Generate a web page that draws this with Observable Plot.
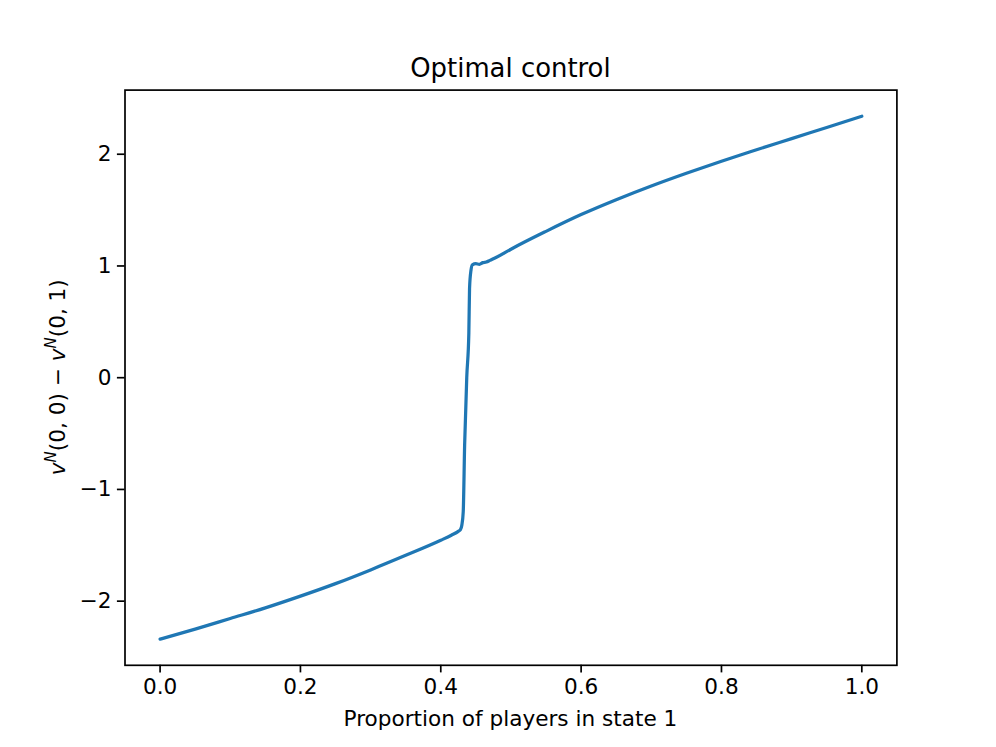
<!DOCTYPE html>
<html>
<head>
<meta charset="utf-8">
<script src="https://cdn.jsdelivr.net/npm/d3@7"></script>
<script src="https://cdn.jsdelivr.net/npm/@observablehq/plot@0.6"></script>
<style>
  html, body { margin: 0; padding: 0; background: #ffffff; }
  #chart { width: 996px; height: 747px; }
</style>
</head>
<body>
<div id="chart"></div>
<script>
// ---- Data ----
const titleText = "Optimal control";
const xLabelText = "Proportion of players in state 1";

// proportion of players in state 1
const proportion = [
  0.00, 0.05, 0.10, 0.15, 0.20, 0.25, 0.30, 0.35, 0.40, 0.415, 0.425, 0.428,
  0.430, 0.432, 0.434, 0.437, 0.440, 0.441, 0.443, 0.445, 0.450, 0.455, 0.460,
  0.465, 0.470, 0.480, 0.50, 0.55, 0.60, 0.65, 0.70, 0.75, 0.80, 0.85, 0.90,
  0.95, 1.00
];
// v^N(0,0) - v^N(0,1)
const valueDiff = [
  -2.34, -2.25, -2.155, -2.06, -1.955, -1.843, -1.72, -1.59, -1.455, -1.41, -1.375, -1.36,
  -1.32, -1.20, -0.60, 0.00, 0.40, 0.80, 0.96, 1.01, 1.02, 1.015, 1.03,
  1.035, 1.05, 1.08, 1.15, 1.31, 1.46, 1.593, 1.716, 1.83, 1.938, 2.04, 2.14,
  2.24, 2.34
];

const xTicks = [0.0, 0.2, 0.4, 0.6, 0.8, 1.0];
const yTicks = [-2, -1, 0, 1, 2];

const data = proportion.map((x, i) => ({x, y: valueDiff[i]}));

const W = 996, H = 747;
const axLeft = 124.5, axRight = 896.4, axTop = 89.6, axBottom = 664.8;
const fs = 21.6;

const chart = Plot.plot({
  width: W,
  height: H,
  marginLeft: axLeft,
  marginRight: W - axRight,
  marginTop: axTop,
  marginBottom: H - axBottom,
  style: {fontFamily: "DejaVu Sans", fontSize: fs + "px", background: "#ffffff", color: "#000000"},
  x: {domain: [-0.05, 1.05]},
  y: {domain: [-2.574, 2.574]},
  marks: [
    Plot.line(data, {x: "x", y: "y", stroke: "#1f77b4", strokeWidth: 3.24, curve: "monotone-x"}),
    Plot.frame({stroke: "#000000", strokeWidth: 1.7}),
    Plot.axisX({ticks: xTicks, tickFormat: d3.format(".1f"), tickSize: 7.6, tickPadding: 6, strokeWidth: 1.7, label: null, fontSize: fs, fill: "#000000"}),
    Plot.axisY({ticks: yTicks, tickFormat: d3.format("d"), tickSize: 7.6, tickPadding: 6, strokeWidth: 1.7, label: null, fontSize: fs, fill: "#000000"})
  ]
});

document.getElementById("chart").appendChild(chart);

const svg = d3.select(chart);
// Title
svg.append("text")
  .attr("x", (axLeft + axRight) / 2)
  .attr("y", 76.5)
  .attr("text-anchor", "middle")
  .attr("font-size", 25.9)
  .attr("fill", "#000")
  .text(titleText);
// X label
svg.append("text")
  .attr("x", (axLeft + axRight) / 2)
  .attr("y", 726)
  .attr("text-anchor", "middle")
  .attr("font-size", fs)
  .attr("fill", "#000")
  .text(xLabelText);
// Y label with math-like superscripts
const yl = svg.append("text")
  .attr("transform", `translate(65,${(axTop + axBottom) / 2}) rotate(-90)`)
  .attr("text-anchor", "middle")
  .attr("font-size", fs)
  .attr("fill", "#000");
const sup = 15, raise = 9;
yl.append("tspan").attr("font-style", "italic").text("v");
yl.append("tspan").attr("font-style", "italic").attr("font-size", sup).attr("dy", -raise).text("N");
yl.append("tspan").attr("dy", raise).text("(0, 0) \u2212 ");
yl.append("tspan").attr("font-style", "italic").text("v");
yl.append("tspan").attr("font-style", "italic").attr("font-size", sup).attr("dy", -raise).text("N");
yl.append("tspan").attr("dy", raise).text("(0, 1)");
</script>
</body>
</html>
